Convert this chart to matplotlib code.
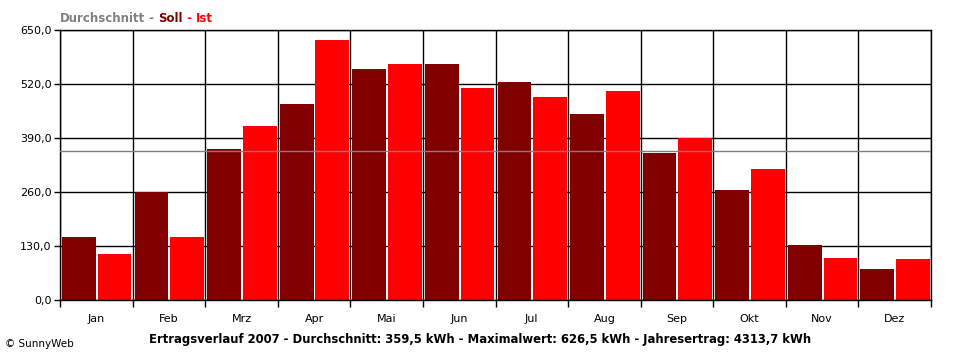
import numpy as np
import matplotlib
matplotlib.use('Agg')
import matplotlib.pyplot as plt

# Monthly yield 2007 (kWh)
months = ["Jan", "Feb", "Mrz", "Apr", "Mai", "Jun", "Jul", "Aug", "Sep", "Okt", "Nov", "Dez"]
soll = [151.7, 260.0, 363.5, 471.9, 556.0, 568.0, 524.8, 447.8, 354.6, 264.8, 132.4, 74.6]
ist = [110.7, 151.7, 418.9, 626.5, 568.0, 510.4, 488.7, 503.0, 390.0, 315.4, 101.0, 98.7]
durchschnitt = 359.5
yticks = [0, 130, 260, 390, 520, 650]

plt.rcParams['font.family'] = ['DejaVu Sans']

fig = plt.figure(figsize=(9.6, 3.6), dpi=100)
ax = fig.add_axes([60/960, 60/360, 871/960, 270/360])

x = np.arange(len(months))
ax.bar(x + 0.028, soll, width=0.465, align='edge', color='#800000',
       linewidth=0, zorder=2)
ax.bar(x + 0.52, ist, width=0.465, align='edge', color='#ff0000',
       linewidth=0, zorder=2)
ax.axhline(durchschnitt, color='#808080', linewidth=1, zorder=3)

ax.set_xlim(0, 12)
ax.set_ylim(0, 650)
ax.set_xticks(np.arange(13))
ax.set_xticklabels([])
ax.set_xticks(x + 0.5, minor=True)
ax.set_xticklabels(months, minor=True)
ax.tick_params(axis='x', which='major', length=5, width=1, color='black', direction='out')
ax.tick_params(axis='x', which='minor', length=0, labelsize=8, pad=10)
ax.set_yticks(yticks)
ax.set_yticklabels([f"{v:.1f}".replace('.', ',') for v in yticks])
ax.tick_params(axis='y', length=4, width=1, labelsize=8, pad=2)
ax.grid(True, which='major', color='black', linewidth=1, zorder=1)
ax.set_axisbelow(True)
for s in ax.spines.values():
    s.set_color('black')
    s.set_linewidth(1)

# Legend-style title at top left
parts = [("Durchschnitt", '#808080'), (" - ", '#808080'), ("Soll", '#800000'),
         (" - ", '#ff0000'), ("Ist", '#ff0000')]
xpos = 60
renderer = fig.canvas.get_renderer()
for txt, col in parts:
    t = fig.text(xpos/960, 1 - 18/360, txt, color=col, fontsize=8.5, fontweight='bold',
                 ha='left', va='center')
    bb = t.get_window_extent(renderer=renderer)
    xpos += bb.width

fig.text(480/960, 1 - 339/360,
         "Ertragsverlauf 2007 - Durchschnitt: 359,5 kWh - Maximalwert: 626,5 kWh - Jahresertrag: 4313,7 kWh",
         fontsize=8.4, fontweight='bold', ha='center', va='center')
fig.text(5/960, 1 - 344/360, "\u00a9 SunnyWeb", fontsize=7.5, ha='left', va='center')

fig.savefig("out.png", dpi=100)
